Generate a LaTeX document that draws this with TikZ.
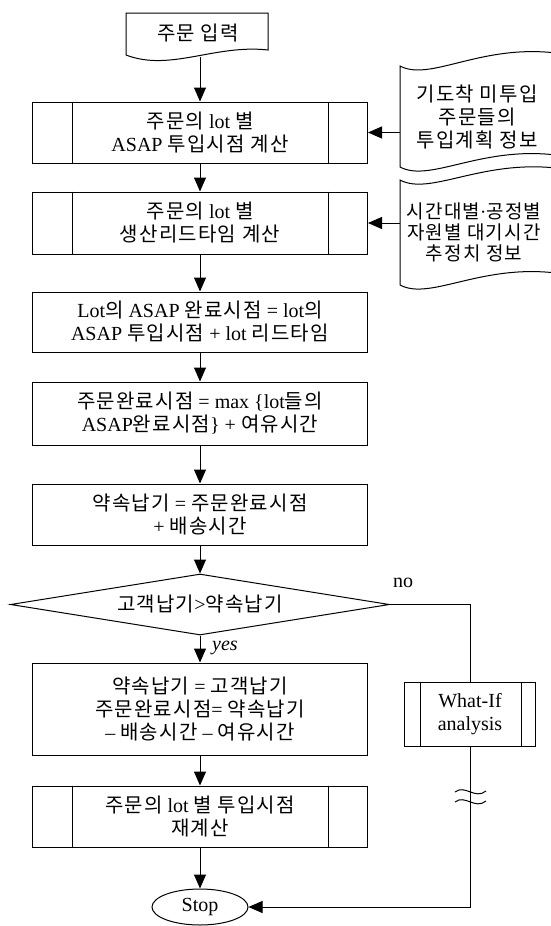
\documentclass[tikz,border=0pt]{standalone}
\usepackage{fontspec}
\setmainfont{Liberation Serif}
\newfontfamily\kr{Noto Sans CJK KR}[LetterSpace=6]
\newcommand\hk[1]{{\kr #1}}
\usetikzlibrary{arrows.meta,shapes.geometric}
\tikzset{
  txt/.style={font=\fontsize{20}{23}\selectfont, align=center, inner sep=0pt},
  base/.style={txt, draw, line width=1pt},
  proc/.style={base, rectangle, minimum width=335pt, minimum height=61pt},
  arr/.style={line width=1pt, -{Triangle[length=14pt,width=12pt]}},
  ln/.style={line width=1pt},
}
\begin{document}
\begin{tikzpicture}[x=1pt,y=1pt]
\useasboundingbox (0,0) rectangle (550,-926);
\fill[white] (0,0) rectangle (550,-926);

% document shape: order input
\draw[ln] (126,-55) -- (126,-13) -- (268,-13) -- (268,-50)
  .. controls (215,-44) and (170,-72) .. (126,-55);
\node[txt] (n0) at (198,-33) {\hk{주문 입력}};
\coordinate (c0) at (200,-57);

% main process boxes
\node[proc] (b2) at (200,-132.5) {\hk{주문의} lot \hk{별}\\ASAP \hk{투입시점 계산}};
\node[proc, minimum height=62pt] (b3) at (200,-223) {\hk{주문의} lot \hk{별}\\\hk{생산리드타임 계산}};
\node[proc, minimum height=60pt] (b4) at (200,-322) {Lot\hk{의} ASAP \hk{완료시점} = lot\hk{의}\\ASAP \hk{투입시점} + lot \hk{리드타임}};
\node[proc, minimum height=63pt] (b5) at (200,-413.5) {\hk{주문완료시점} = max \{lot\hk{들의}\\ASAP\hk{완료시점}\} + \hk{여유시간}};
\node[proc] (b6) at (200,-514.5) {\hk{약속납기} = \hk{주문완료시점}\\+ \hk{배송시간}};
\node[base, diamond, aspect=6.2, minimum width=379pt, minimum height=61pt] (dm) at (200,-604.5) {\hk{고객납기}>\hk{약속납기}};
\node[proc, minimum height=92pt] (b7) at (200,-709) {\hk{약속납기} = \hk{고객납기}\\\hk{주문완료시점}= \hk{약속납기}\\– \hk{배송시간} – \hk{여유시간}};
\node[proc] (b8) at (200,-816.5) {\hk{주문의} lot \hk{별 투입시점}\\\hk{재계산}};
\node[base, ellipse, minimum width=96pt, minimum height=36pt] (st) at (200,-907) {Stop};

% predefined-process side bars
\foreach \n in {b2,b3,b8}{
  \draw[ln] ([xshift=40pt]\n.north west) -- ([xshift=40pt]\n.south west);
  \draw[ln] ([xshift=-40pt]\n.north east) -- ([xshift=-40pt]\n.south east);
}

% What-If box
\node[base, rectangle, minimum width=131pt, minimum height=64pt] (wi) at (470,-714) {What-If\\analysis};
\draw[ln] ([xshift=16pt]wi.north west) -- ([xshift=16pt]wi.south west);
\draw[ln] ([xshift=-15pt]wi.north east) -- ([xshift=-15pt]wi.south east);

% data (tape) shapes at right
\draw[ln] (556,-53) .. controls (480,-44) and (430,-82) .. (400,-66)
  -- (400,-167) .. controls (430,-183) and (480,-146) .. (556,-155);
\node[txt] (d1) at (477,-117) {\hk{기도착 미투입}\\\hk{주문들의}\\\hk{투입계획 정보}};
\draw[ln] (556,-168) .. controls (480,-160) and (430,-196) .. (400,-180)
  -- (400,-285) .. controls (430,-301) and (480,-264) .. (556,-273);
\node[txt, font=\fontsize{19}{21}\selectfont] (d2) at (474,-232) {\hk{시간대별}·\hk{공정별}\\\hk{자원별 대기시간}\\\hk{추정치 정보}};
\coordinate (d1w) at (400,-132.5);
\coordinate (d2w) at (400,-223);

% connectors
\draw[arr] (c0) -- (b2.north);
\draw[arr] (d1w) -- (b2.east);
\draw[arr] (d2w) -- (b3.east);
\draw[arr] (b2) -- (b3);
\draw[arr] (b3) -- (b4);
\draw[arr] (b4) -- (b5);
\draw[arr] (b5) -- (b6);
\draw[arr] (b6) -- (dm);
\draw[arr] (dm) -- (b7);
\draw[arr] (b7) -- (b8);
\draw[arr] (b8) -- (st);
\draw[ln] (dm.east) -| (wi.north);
\draw[arr] (wi.south) |- (st.east);

% break mark
\draw[ln] (455,-792) .. controls (465,-784) and (475,-800) .. (486,-791);
\draw[ln] (455,-802) .. controls (465,-794) and (475,-810) .. (486,-801);

% labels
\node[txt] (no) at (403,-583) {no};
\node[txt, anchor=west, font=\fontsize{20}{23}\selectfont\itshape] (yes) at (212,-648) {yes};
\end{tikzpicture}
\end{document}
